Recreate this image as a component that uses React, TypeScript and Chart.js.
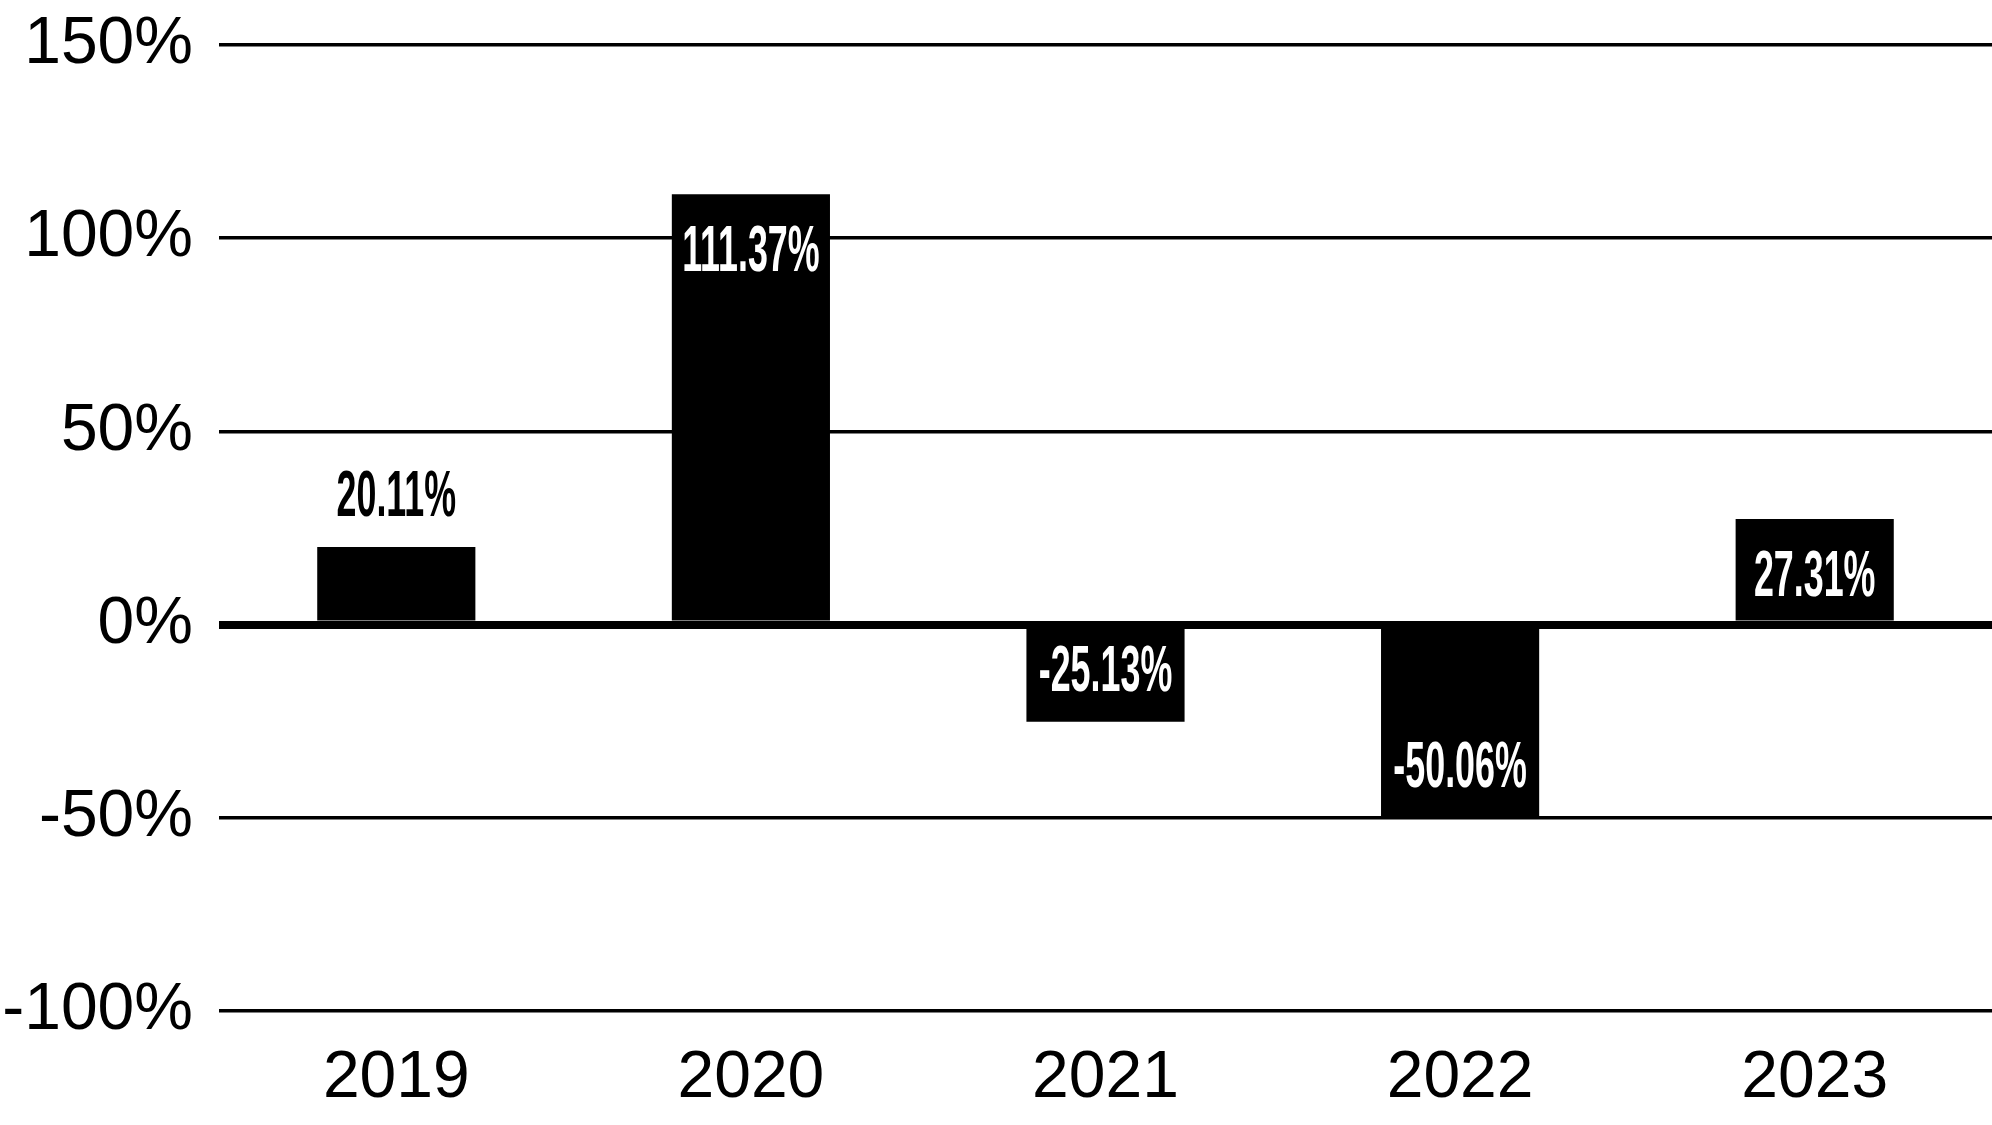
import React, { useEffect, useRef } from "react";
import { Chart, registerables } from "chart.js";

Chart.register(...registerables);

const categories = ["2019", "2020", "2021", "2022", "2023"];
const returns = [20.11, 111.37, -25.13, -50.06, 27.31];
const yTicks = [-100, -50, 0, 50, 100, 150];

const labelPlugin = {
  id: "barValueLabels",
  afterDatasetsDraw(chart: any) {
    const ctx = chart.ctx;
    const meta = chart.getDatasetMeta(0);
    const data = chart.data.datasets[0].data as number[];
    const cap = 46;
    const gap = 31;
    const sx = 0.56;
    const fontSize = 64;
    ctx.save();
    ctx.font = `bold ${fontSize}px "Liberation Sans", Arial, sans-serif`;
    ctx.textAlign = "center";
    ctx.textBaseline = "alphabetic";
    meta.data.forEach((bar: any, i: number) => {
      const v = data[i];
      const { x, y, base } = bar.getProps(["x", "y", "base"], true);
      const h = Math.abs(base - y);
      const text = v.toFixed(2) + "%";
      let baseline: number;
      let color: string;
      if (h < cap + gap + 12) {
        baseline = v >= 0 ? y - gap : y + gap + cap;
        color = "#000";
      } else {
        baseline = v >= 0 ? y + gap + cap : y - gap;
        color = "#fff";
      }
      ctx.save();
      ctx.translate(x, baseline);
      ctx.scale(sx, 1);
      ctx.fillStyle = color;
      ctx.fillText(text, 0, 0);
      ctx.restore();
    });
    ctx.restore();
  },
};

export default function App() {
  const ref = useRef<HTMLCanvasElement | null>(null);

  useEffect(() => {
    document.body.style.margin = "0";
    if (!ref.current) return;
    const font = { family: '"Liberation Sans", Arial, sans-serif', size: 66 };
    const chart = new Chart(ref.current, {
      type: "bar",
      data: {
        labels: categories,
        datasets: [
          {
            data: returns,
            backgroundColor: "#000",
            borderWidth: 0,
            barPercentage: 0.446,
            categoryPercentage: 1,
          },
        ],
      },
      plugins: [labelPlugin],
      options: {
        animation: false,
        responsive: false,
        devicePixelRatio: 1,
        layout: { padding: { top: 45, right: 0, left: 0, bottom: 0 } },
        plugins: {
          legend: { display: false },
          tooltip: { enabled: false },
        },
        scales: {
          x: {
            grid: { display: false, drawTicks: false },
            border: { display: false },
            ticks: { color: "#000", font, padding: 28, maxRotation: 0 },
            afterFit: (s: any) => {
              s.height = 114;
              s.paddingLeft = 0;
              s.paddingRight = 0;
            },
          },
          y: {
            min: -100,
            max: 150,
            afterBuildTicks: (s: any) => {
              s.ticks = yTicks.map((v) => ({ value: v }));
            },
            grid: {
              color: "#000",
              lineWidth: (c: any) => (c.tick && c.tick.value === 0 ? 8 : 3.5),
              drawTicks: false,
            },
            border: { display: false },
            ticks: {
              color: "#000",
              font,
              padding: 26,
              callback: (v: any) => v + "%",
            },
            afterFit: (s: any) => {
              s.width = 219;
              s.paddingTop = 0;
              s.paddingBottom = 0;
            },
          },
        },
      } as any,
    });
    return () => chart.destroy();
  }, []);

  return (
    <div style={{ width: 1992, height: 1125 }}>
      <canvas ref={ref} width={1992} height={1125} style={{ display: "block", width: 1992, height: 1125 }} />
    </div>
  );
}
